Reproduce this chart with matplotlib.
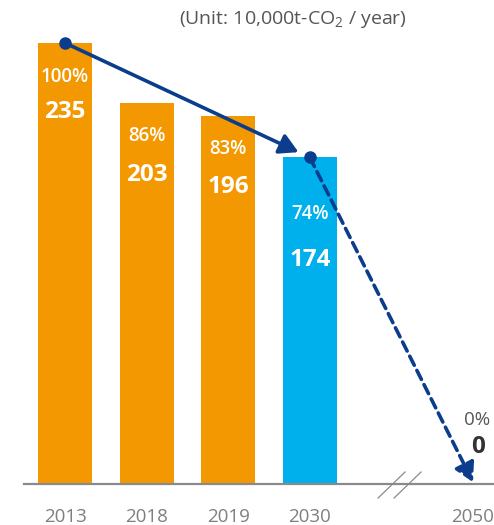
import numpy as np
import matplotlib
matplotlib.use("Agg")
from matplotlib import pyplot as plt

plt.rcParams['font.family'] = ['Open Sans', 'DejaVu Sans']
plt.rcParams['mathtext.fontset'] = 'custom'
plt.rcParams['mathtext.rm'] = 'Open Sans'

years = ['2013', '2018', '2019', '2030', '2050']
pos = [0, 1, 2, 3, 5]
emissions = [235, 203, 196, 174, 0]
percent = ['100%', '86%', '83%', '74%', '0%']
colors = ['#F39800', '#F39800', '#F39800', '#00B0EC']

LINE_BLUE = '#0B3D8C'

fig = plt.figure(figsize=(4.94, 5.25), dpi=100)
ax = fig.add_axes([0, 41 / 525, 1, 484 / 525])
ax.set_xlim(-0.797, 5.257)
ax.set_ylim(0, 257.9)
for s in ax.spines.values():
    s.set_visible(False)
ax.set_yticks([])

# bars up to 2030
ax.bar(pos[:4], emissions[:4], width=0.66, color=colors, zorder=1)

# baseline and break mark
ax.plot([-0.5, 5.3], [0, 0], color='#8a8a8a', lw=1.6, clip_on=False, zorder=2)
for x0 in (3.836, 4.032):
    ax.plot([x0, x0 + 0.331], [-7.5, 6.4], color='#8a8a8a', lw=0.9, clip_on=False)

ax.set_xticks(pos)
ax.set_xticklabels(years, fontsize=13.5, color='#7f7f7f')
ax.tick_params(axis='x', length=0, pad=17)

# labels inside bars
pct_off = [-34, -33, -33, -57]
val_off = [-69, -72, -71, -103]
for i in range(4):
    ax.annotate(percent[i], (pos[i], emissions[i]), xytext=(0, pct_off[i]),
                textcoords='offset pixels', ha='center', va='center',
                color='white', fontsize=13.5, fontweight='semibold')
    ax.annotate(str(emissions[i]), (pos[i], emissions[i]), xytext=(0, val_off[i]),
                textcoords='offset pixels', ha='center', va='center',
                color='white', fontsize=17.5, fontweight='bold')

# 2050 labels
ax.annotate(percent[4], (pos[4], emissions[4]), xytext=(4, 64),
            textcoords='offset pixels', ha='center', va='center',
            color='#555555', fontsize=13.5)
ax.annotate(str(emissions[4]), (pos[4], emissions[4]), xytext=(5, 37),
            textcoords='offset pixels', ha='center', va='center',
            color='#333333', fontsize=17.5, fontweight='bold')

# trend arrows
ax.annotate('', xy=(pos[3], emissions[3]), xytext=(pos[0], emissions[0]),
            arrowprops=dict(arrowstyle='-|>,head_length=0.75,head_width=0.42',
                            color=LINE_BLUE, lw=2.6, shrinkA=0, shrinkB=9,
                            mutation_scale=15), zorder=4)
ax.annotate('', xy=(pos[4], emissions[4] + 1), xytext=(pos[3], emissions[3]),
            arrowprops=dict(arrowstyle='-|>,head_length=0.75,head_width=0.42',
                            color=LINE_BLUE, lw=2.6, shrinkA=0, shrinkB=0,
                            mutation_scale=15, linestyle=(0, (2.8, 1.6))),
            zorder=4)
ax.plot([pos[0], pos[3]], [emissions[0], emissions[3]], 'o', color=LINE_BLUE,
        ms=8, zorder=5)

fig.text(0.593, 0.962, r'(Unit: 10,000t-CO$_{2}$ / year)', ha='center', va='center',
         fontsize=14, color='#555555')

fig.savefig('out.png', dpi=100)
